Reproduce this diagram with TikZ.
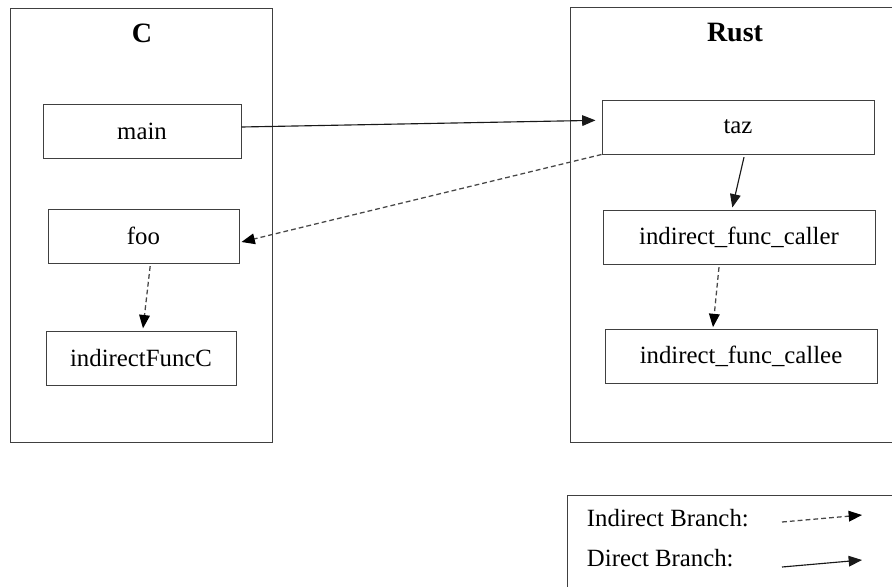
\documentclass[tikz,border=0pt]{standalone}
\usepackage{fontspec}
\setmainfont{Liberation Serif}
\usetikzlibrary{arrows.meta}

\begin{document}
\begin{tikzpicture}[x=0.75pt,y=-0.75pt,line width=0.75pt,
    func/.style={draw=black!75,minimum height=40.5pt,inner sep=0pt,
      font=\fontsize{18.6}{22}\selectfont},
    title/.style={font=\fontsize{21}{25}\selectfont\bfseries},
    direct/.style={draw=black!90,line width=0.85pt,
      -{Triangle[length=10pt,width=8pt]}},
    indirect/.style={draw=black!72,line width=0.95pt,dash pattern=on 3.6pt off 2.3pt,
      -{Triangle[length=10pt,width=8pt,color=black]}},
    legtext/.style={anchor=west,font=\fontsize{18.6}{22}\selectfont}]
  \clip (0,0) rectangle (892,586);
  \fill[white] (0,0) rectangle (892,586);
  \draw[black!75] (10,8) rectangle (272,442);
  \draw[black!75] (570,7) rectangle (900,442);
  \draw[black!75] (567,495) rectangle (900,600);
  \node[title] (ctitle) at (142,33) {C};
  \node[title] (rusttitle) at (735,33) {Rust};
  \node[func,minimum width=148.5pt] (main) at (142,131) {main};
  \node[func,minimum width=143.25pt] (foo) at (143.5,236) {foo};
  \node[func,minimum width=142.5pt] (ifc) at (141,358.5) {indirectFuncC};
  \node[func,minimum width=204pt] (taz) at (738,127) {taz};
  \node[func,minimum width=204pt] (caller) at (739,237) {indirect\_func\_caller};
  \node[func,minimum width=204pt] (callee) at (741,356) {indirect\_func\_callee};
  \draw[direct] ([yshift=3pt]main.east) -- ([xshift=-4.5pt,yshift=5pt]taz.west);
  \draw[indirect] (taz.south west) -- ([xshift=1.5pt,yshift=-4.5pt]foo.east);
  \draw[indirect] ([xshift=5pt,yshift=-2pt]foo.south) -- ([xshift=1.5pt,yshift=2pt]ifc.north);
  \draw[direct] ([xshift=4.5pt,yshift=-2pt]taz.south) -- ([xshift=-5pt,yshift=1.5pt]caller.north);
  \draw[indirect] ([xshift=-15pt,yshift=-2pt]caller.south) -- ([xshift=-21pt,yshift=1pt]callee.north);
  \node[legtext] (ibtext) at (582,518) {Indirect Branch:};
  \node[legtext] (dbtext) at (582,558) {Direct Branch:};
  \coordinate (ibstart) at (782,522);
  \coordinate (ibend) at (862,515);
  \coordinate (dbstart) at (782,567);
  \coordinate (dbend) at (862,560);
  \draw[indirect] (ibstart) -- (ibend);
  \draw[direct] (dbstart) -- (dbend);
\end{tikzpicture}
\end{document}
